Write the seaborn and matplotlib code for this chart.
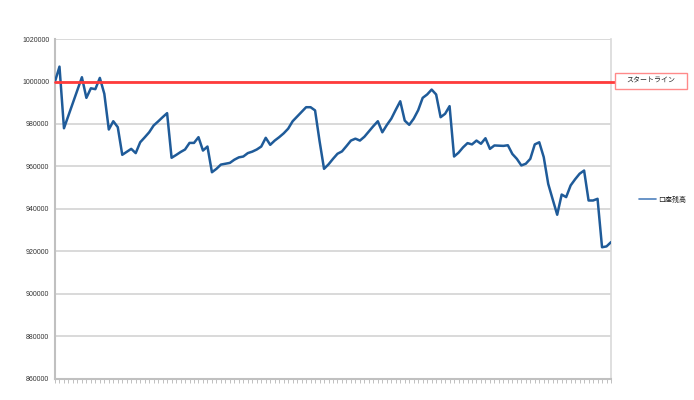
import matplotlib
matplotlib.use("Agg")
import matplotlib.pyplot as plt
from matplotlib.patches import Rectangle
import numpy as np
import pandas as pd
import seaborn as sns

# ---- data ----
balance = [
    1000000, 1007000, 978000, 984000, 990000, 996000, 1002000, 992300, 996800, 996400,
    1001700, 994200, 977400, 981300, 978500, 965500, 966900, 968300, 966300, 971400,
    973700, 976100, 979300, 981200, 983200, 985100, 964100, 965400, 966800, 968000,
    971100, 971100, 973800, 967500, 969400, 957300, 958900, 960900, 961300, 961700,
    963200, 964300, 964700, 966300, 967000, 968000, 969400, 973500, 970200, 972200,
    973800, 975600, 977800, 981300, 983500, 985700, 987900, 987900, 986400, 972000,
    958900, 961000, 963600, 966000, 967100, 969600, 972200, 973100, 972200, 974000,
    976500, 979000, 981300, 976100, 979500, 982500, 986700, 990700, 981600, 979600,
    982500, 986500, 992300, 993900, 996200, 993900, 983200, 984800, 988400, 964700,
    966500, 969000, 971000, 970400, 972200, 970700, 973300, 968300, 969900, 969800,
    969700, 970000, 965900, 963600, 960500, 961300, 963600, 970400, 971400, 964400,
    951800, 944500, 937300, 946800, 945600, 951100, 954000, 956600, 958100, 944000,
    944000, 944800, 922000, 922400, 924400,
]
days = list(range(len(balance)))
start_line = 1000000
y_ticks = [860000, 880000, 900000, 920000, 940000, 960000, 980000, 1000000, 1020000]
series_label = "口座残高"
start_label = "スタートライン"

sns.set_theme(style="white")
plt.rcParams['font.family'] = ['Liberation Sans', 'Noto Sans CJK JP', 'DejaVu Sans']

W, H = 694, 400
fig = plt.figure(figsize=(W / 100, H / 100), dpi=100)
ax = fig.add_axes([55 / W, 21 / H, 556 / W, 340 / H])

df = pd.DataFrame({"day": days, "balance": balance})
sns.lineplot(data=df, x="day", y="balance", ax=ax, color="#1f5b99",
             linewidth=1.8, label=series_label, zorder=3)

ax.set_xlim(0, len(balance) - 1)
ax.set_ylim(y_ticks[0], y_ticks[-1])
ax.set_yticks(y_ticks)
ax.set_yticklabels([str(v) for v in y_ticks], fontsize=5, color="#333333")
ax.set_xticks(days)
ax.set_xticklabels([])
ax.set_xlabel("")
ax.set_ylabel("")
ax.tick_params(axis="x", bottom=True, length=3, width=0.7, color="#c0c0c0", direction="out")
ax.tick_params(axis="y", left=False, length=0, pad=4)

ax.yaxis.grid(True, color="#d9d9d9", linewidth=1.4)
ax.xaxis.grid(False)
ax.set_axisbelow(True)
for side in ["left", "bottom"]:
    ax.spines[side].set_color("#c0c0c0")
    ax.spines[side].set_linewidth(1.5)
ax.spines["right"].set_color("#d9d9d9")
ax.spines["right"].set_linewidth(1.2)
ax.spines["top"].set_visible(False)

# start line extending to its label box
ax.axhline(start_line, xmin=0, xmax=(616 - 55) / 556, color="#ff3b3b",
           linewidth=2, clip_on=False, zorder=4)
fig.patches.append(Rectangle((615 / W, 1 - 89 / H), 72 / W, 16 / H,
                             transform=fig.transFigure, facecolor="white",
                             edgecolor="#ff8a8a", linewidth=1, zorder=5))
fig.text(651 / W, 1 - 81.5 / H, start_label, ha="center", va="center",
         fontsize=5, color="#222222", zorder=6)

leg = ax.legend(loc="center left", bbox_to_anchor=(1.045, 0.526), frameon=False,
                fontsize=5, handlelength=2.5, handletextpad=0.3, borderaxespad=0)
for ln in leg.get_lines():
    ln.set_color("#4f81bd")
    ln.set_linewidth(1.2)

fig.savefig("out.png", dpi=100)
